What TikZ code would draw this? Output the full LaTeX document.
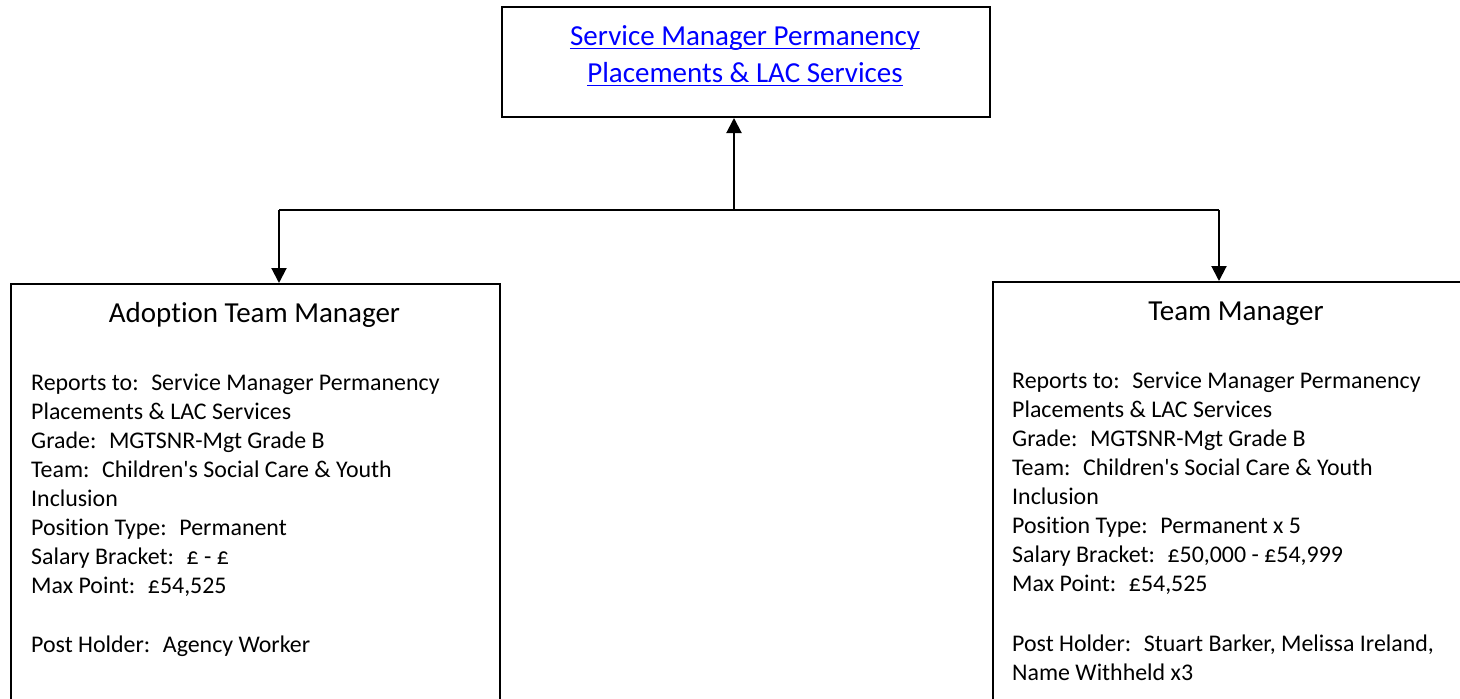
\documentclass[tikz,border=0pt]{standalone}
\usepackage{fontspec}
\newfontfamily\calibri[Ligatures={NoCommon}]{Carlito}
\usetikzlibrary{arrows.meta}
\definecolor{linkblue}{RGB}{0,0,255}
\tikzset{
  box/.style={draw=black, line width=2pt, fill=white, rectangle, inner sep=0pt, anchor=north west},
  conn/.style={draw=black, line width=2pt},
  arr/.style={conn, -{Triangle[width=15pt,length=15pt]}},
  ttl/.style={anchor=base, inner sep=0pt, font=\calibri\fontsize{29}{35}\selectfont},
  lnk/.style={ttl, text=linkblue},
  uline/.style={draw=linkblue, line width=1.6pt},
  body/.style={anchor=base west, inner sep=0pt, font=\calibri\fontsize{23.9}{29}\selectfont}
}
\begin{document}
\begin{tikzpicture}[x=1pt,y=-1pt]
\useasboundingbox (0,0) rectangle (1460,699);
\clip (0,0) rectangle (1460,699);
\fill[white] (0,0) rectangle (1460,699);
% boxes
\node[box, minimum width=488pt, minimum height=110pt] (top) at (501,6) {};
\node[box, minimum width=489pt, minimum height=480pt] (adopt) at (10,283) {};
\node[box, minimum width=488pt, minimum height=480pt] (team) at (992,281) {};
% connectors
\coordinate (j) at (734,210);
\coordinate (jl) at (279,210);
\coordinate (jr) at (1219,210);
\draw[arr] (j) -- (j |- top.south);
\draw[conn] (jl) -- (jr);
\draw[arr] (jl) -- (jl |- adopt.north);
\draw[arr] (jr) -- (jr |- team.north);
% top text
\node[lnk] (t1) at (745,45) {Service Manager Permanency};
\node[lnk] (t2) at (745,82) {Placements \& LAC Services};
\draw[uline] ([yshift=-3.5pt]t1.base west) -- ([yshift=-3.5pt]t1.base east);
\draw[uline] ([yshift=-3.5pt]t2.base west) -- ([yshift=-3.5pt]t2.base east);
% left box text
\node[ttl] (a0) at (254.5,322) {Adoption Team Manager};
\node[body] (a1) at (31,390) {Reports to:~ Service Manager Permanency};
\node[body] (a2) at (31,419) {Placements \& LAC Services};
\node[body] (a3) at (31,448) {Grade:~ MGTSNR-Mgt Grade B};
\node[body] (a4) at (31,477) {Team:~ Children's Social Care \& Youth};
\node[body] (a5) at (31,506) {Inclusion};
\node[body] (a6) at (31,535) {Position Type:~ Permanent};
\node[body] (a7) at (31,564) {Salary Bracket:~ £ - £};
\node[body] (a8) at (31,593) {Max Point:~ £54,525};
\node[body] (a9) at (31,652) {Post Holder:~ Agency Worker};
% right box text
\node[ttl] (b0) at (1236,320) {Team Manager};
\node[body] (b1) at (1012,388) {Reports to:~ Service Manager Permanency};
\node[body] (b2) at (1012,417) {Placements \& LAC Services};
\node[body] (b3) at (1012,446) {Grade:~ MGTSNR-Mgt Grade B};
\node[body] (b4) at (1012,475) {Team:~ Children's Social Care \& Youth};
\node[body] (b5) at (1012,504) {Inclusion};
\node[body] (b6) at (1012,533) {Position Type:~ Permanent x 5};
\node[body] (b7) at (1012,562) {Salary Bracket:~ £50,000 - £54,999};
\node[body] (b8) at (1012,591) {Max Point:~ £54,525};
\node[body] (b9) at (1012,651) {Post Holder:~ Stuart Barker, Melissa Ireland,};
\node[body] (b10) at (1012,680) {Name Withheld x3};
\end{tikzpicture}
\end{document}
